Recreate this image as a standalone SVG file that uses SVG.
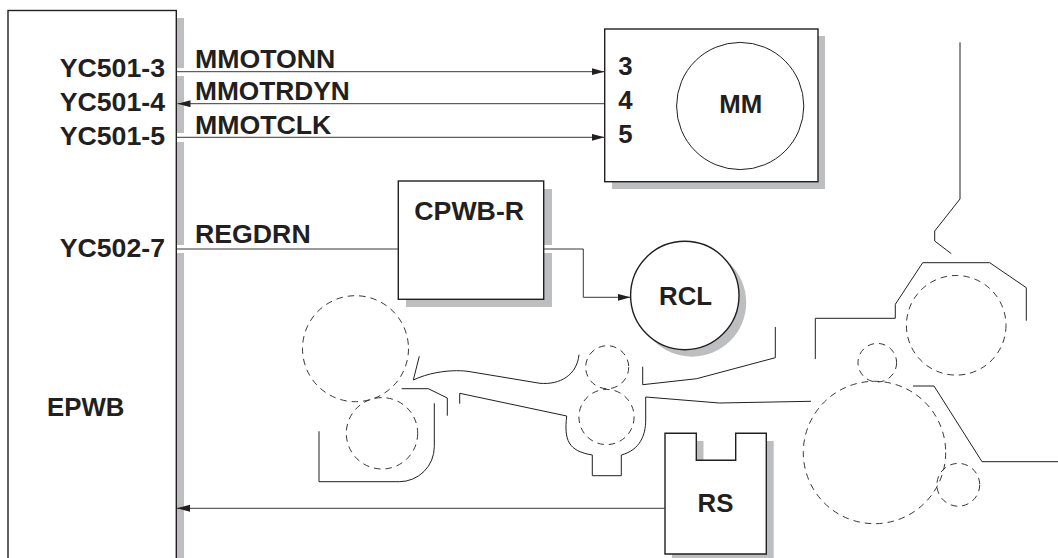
<svg xmlns="http://www.w3.org/2000/svg" width="1058" height="558" viewBox="0 0 1058 558">
<style>
.box{fill:#fff;stroke:#231f20;stroke-width:1.4}
.sh{fill:#bcbec0;stroke:none}
.t{font-family:"Liberation Sans",Arial,sans-serif;font-weight:bold;font-size:25.8px;fill:#231f20}
.l{font-size:26.7px}
.c{fill:none;stroke:#3a3839;stroke-width:1}
.m{fill:none;stroke:#231f20;stroke-width:1}
.d{fill:none;stroke:#231f20;stroke-width:.9;stroke-dasharray:6.5 5}
</style>
<defs>
<marker id="arr" markerUnits="userSpaceOnUse" markerWidth="14" markerHeight="8" refX="13" refY="3.5" orient="auto">
<path d="M0,0 L13,3.5 L0,7 Z" fill="#231f20"/>
</marker>
</defs>
<rect width="1058" height="558" fill="#fff"/>
<g id="EPWB">
<path class="sh" d="M177,18H184V68H177ZM177,76H184V133H177ZM177,142H184V245H177ZM177,253H184V558H177Z"/>
<rect class="box" x="8" y="10.5" width="168.3" height="560"/>
<text class="t" x="47" y="416">EPWB</text>
<text class="t l" x="165" y="77.3" text-anchor="end">YC501-3</text>
<text class="t l" x="165" y="111" text-anchor="end">YC501-4</text>
<text class="t l" x="165" y="145.3" text-anchor="end">YC501-5</text>
<text class="t l" x="165" y="256.7" text-anchor="end">YC502-7</text>
</g>
<g id="MM">
<rect class="sh" x="612" y="36" width="213" height="153"/>
<rect class="box" x="604.7" y="29" width="213.3" height="152.7"/>
<circle class="m" cx="740.2" cy="106" r="63.6"/>
<text class="t" x="618.3" y="75">3</text>
<text class="t" x="618.3" y="109">4</text>
<text class="t" x="618.3" y="143">5</text>
<text class="t" x="740.8" y="113.3" text-anchor="middle">MM</text>
</g>
<g id="CPWB-R">
<path class="sh" d="M406,299H552V253H544V189H552V245H544V299H552V307H406Z"/>
<rect class="box" x="398.3" y="181" width="145.4" height="118.3"/>
<text class="t l" x="469.2" y="220" text-anchor="middle">CPWB-R</text>
</g>
<g id="RCL">
<circle class="sh" cx="692" cy="302.5" r="54.2"/>
<circle class="box" cx="684.8" cy="295.5" r="54.2"/>
<text class="t" x="685.6" y="305" text-anchor="middle">RCL</text>
</g>
<g id="RS">
<path class="sh" d="M672,441H703.5V467H743V441H773.7V558H672Z"/>
<path class="box" d="M665,433.3H696.3V460.3H735.7V433.3H766.3V554H665Z"/>
<text class="t" x="715.5" y="511.7" text-anchor="middle">RS</text>
</g>
<g id="connectors">
<path class="c" d="M176.5,71.7H604.5" marker-end="url(#arr)"/>
<path class="c" d="M604.5,103.7H177.5" marker-end="url(#arr)"/>
<path class="c" d="M176.5,137.3H604.5" marker-end="url(#arr)"/>
<path class="c" d="M176.5,249H398"/>
<path class="c" d="M544,249H583.3V297.3H630.5" marker-end="url(#arr)"/>
<path class="c" d="M665,508.3H177" marker-end="url(#arr)"/>
<text class="t l" x="195" y="68.3">MMOTONN</text>
<text class="t" x="195" y="100" style="font-size:26.3px">MMOTRDYN</text>
<text class="t l" x="195" y="134.3">MMOTCLK</text>
<text class="t l" x="195" y="242.7">REGDRN</text>
</g>
<g id="mechanism">
<circle class="d" cx="355.5" cy="348.7" r="53"/>
<circle class="d" cx="382" cy="433.3" r="35.7"/>
<circle class="d" cx="607.2" cy="367.2" r="21.5"/>
<circle class="d" cx="606.5" cy="417" r="27.6"/>
<circle class="d" cx="874.5" cy="452.5" r="71.2"/>
<circle class="d" cx="877.3" cy="362.7" r="19.3"/>
<circle class="d" cx="956.2" cy="325.3" r="49.8"/>
<circle class="d" cx="958.3" cy="484.8" r="21.4"/>
<path class="m" d="M319,431.3V481.7H399.3A35,35 0 0 0 434.3,446.7V403.3"/>
<path class="m" d="M401.7,388.7H428.3L447.3,398V415.7"/>
<path class="m" d="M419.3,356.3L413.3,380C428,373 445,370.7 456.7,370.7C462,370.7 466,371 470,371.7L540,383.3C560,385 577,375 579,354.7"/>
<path class="m" d="M459.7,403.7V393.3L566.7,416C564,440 568,451 592.3,455V475.7H621.3V455C640,450 645.7,435 645.7,420V397L719.3,403L811,401.3"/>
<path class="m" d="M642.7,366.7V384.7L696.7,378.7L775.3,357.7V327"/>
<path class="m" d="M815.3,359V318.3H895.3V304.3L922.7,262.7H989.7L1026.3,287.7V320.7"/>
<path class="m" d="M960,42.3V199L934.7,231V241L951.3,253.7"/>
<path class="m" d="M913,386H934L982,461.7H1058"/>
</g>
</svg>
